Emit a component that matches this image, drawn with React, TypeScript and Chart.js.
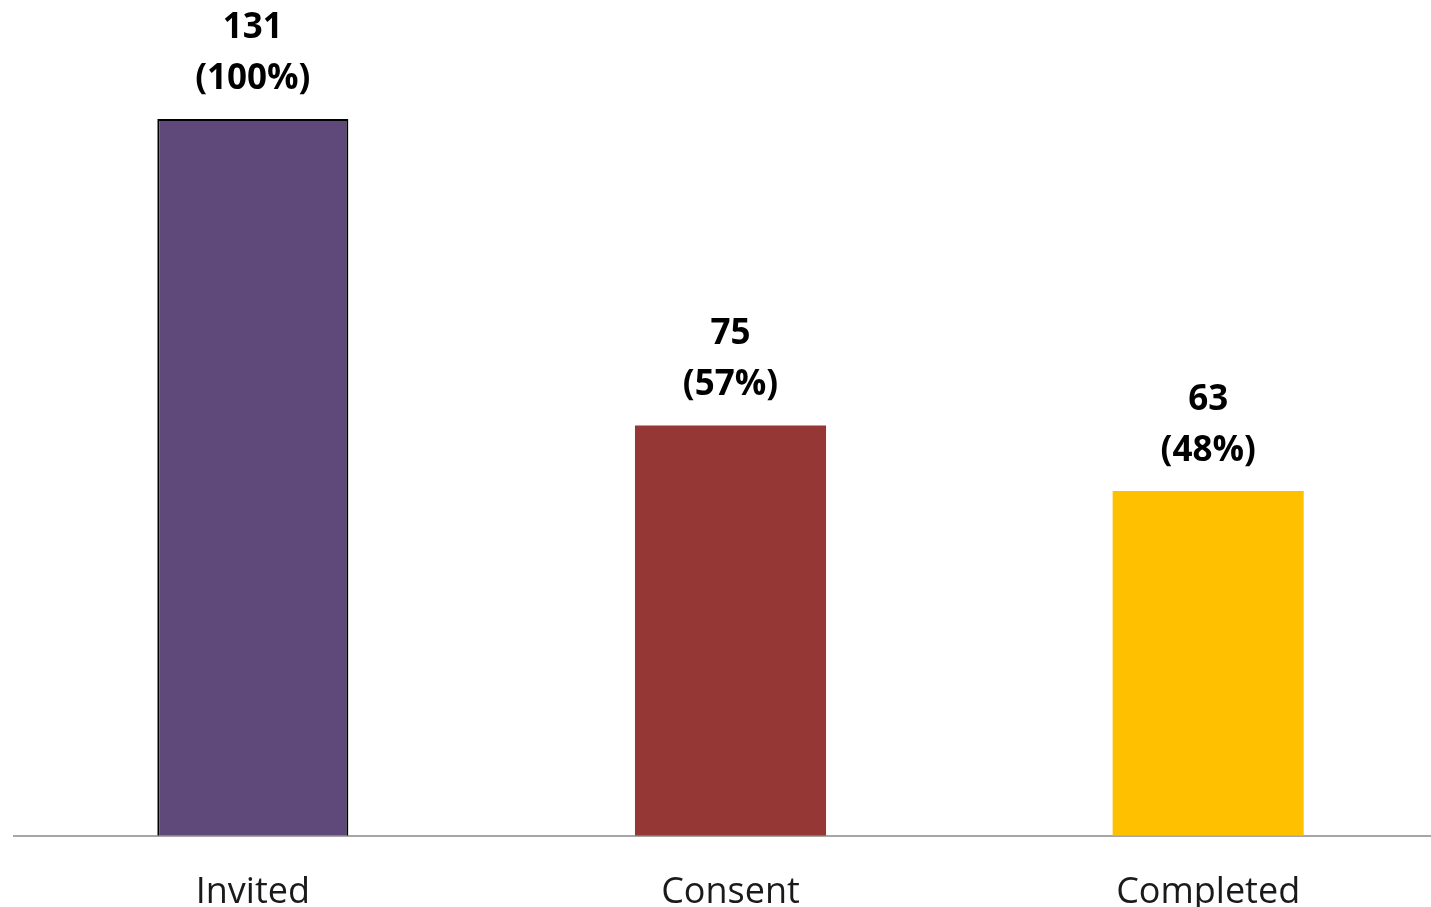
import React, { useEffect, useRef } from "react";
import { Chart, registerables } from "chart.js";

Chart.register(...registerables);

const categories = ["Invited", "Consent", "Completed"];
const counts = [131, 75, 63];
const percents = ["100%", "57%", "48%"];
const barColors = ["#5F497A", "#953735", "#FFC000"];
const barBorderColors = ["#000000", "#953735", "#FFC000"];
const barBorderWidths = [2, 0, 0];

const FONT = "'Open Sans', 'Liberation Sans', sans-serif";

const valueLabelPlugin = {
  id: "valueLabels",
  afterDatasetsDraw(chart: any) {
    const ctx = chart.ctx;
    const meta = chart.getDatasetMeta(0);
    ctx.save();
    ctx.fillStyle = "#000000";
    ctx.font = `bold 35px ${FONT}`;
    ctx.textAlign = "center";
    ctx.textBaseline = "middle";
    meta.data.forEach((bar: any, i: number) => {
      const x = bar.x;
      const y = bar.y;
      ctx.fillText(String(counts[i]), x, y - 91);
      ctx.fillText(`(${percents[i]})`, x, y - 40);
    });
    ctx.restore();
  },
};

export default function App() {
  const ref = useRef<HTMLCanvasElement | null>(null);

  useEffect(() => {
    document.body.style.margin = "0";
    document.body.style.overflow = "hidden";
    const canvas = ref.current;
    if (!canvas) return;
    const chart = new Chart(canvas, {
      type: "bar",
      data: {
        labels: categories,
        datasets: [
          {
            data: counts,
            backgroundColor: barColors,
            borderColor: barBorderColors,
            borderWidth: barBorderWidths,
            borderSkipped: "bottom",
            barPercentage: 0.4,
            categoryPercentage: 1,
          },
        ],
      },
      options: {
        responsive: false,
        animation: false,
        devicePixelRatio: 1,
        layout: { padding: { top: 15, left: 14, right: 0, bottom: 11 } },
        plugins: {
          legend: { display: false },
          tooltip: { enabled: false },
        },
        scales: {
          x: {
            grid: { display: false, drawTicks: false },
            border: { display: true, color: "#A6A6A6", width: 2 },
            ticks: {
              color: "#1a1a1a",
              padding: 35,
              font: { family: FONT, size: 36, lineHeight: 1.2 },
            },
          },
          y: {
            display: false,
            min: 0,
            max: 150,
          },
        },
      },
      plugins: [valueLabelPlugin],
    });
    return () => chart.destroy();
  }, []);

  return (
    <div style={{ position: "absolute", left: 0, top: 0, width: 1431, height: 907, overflow: "hidden", background: "#fff" }}>
      <canvas ref={ref} width={1447} height={960} style={{ display: "block" }} />
    </div>
  );
}
